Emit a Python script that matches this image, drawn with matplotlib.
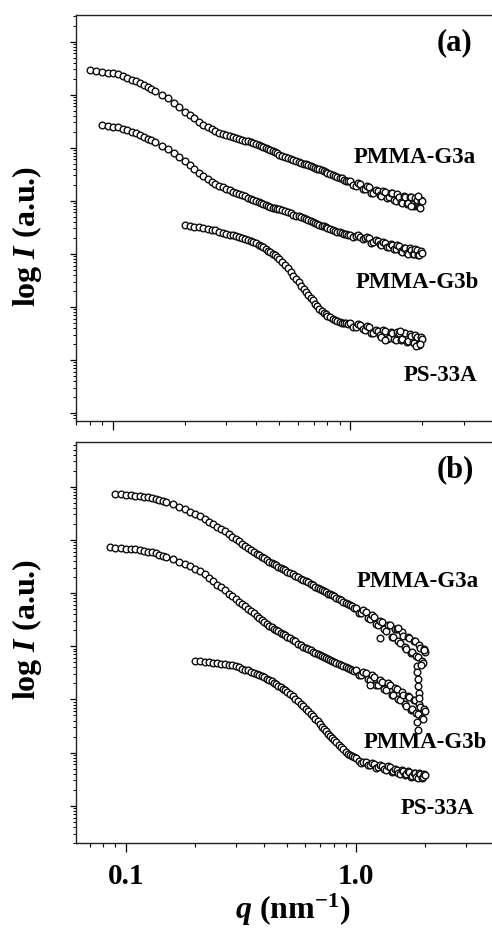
import matplotlib
matplotlib.use("Agg")
import matplotlib.pyplot as plt
from matplotlib.ticker import LogLocator, FixedLocator, NullFormatter, FixedFormatter
import numpy as np

plt.rcParams['font.family'] = 'Liberation Serif'
plt.rcParams['font.weight'] = 'bold'
plt.rcParams['mathtext.fontset'] = 'custom'
plt.rcParams['mathtext.rm'] = 'Liberation Serif:bold'
plt.rcParams['mathtext.it'] = 'Liberation Serif:italic:bold'
plt.rcParams['mathtext.bf'] = 'Liberation Serif:bold'

# ---------------- data (q in nm^-1, log10 of intensity in a.u.) ----------------
q_grid = [0.080, 0.085, 0.090, 0.095, 0.100, 0.105, 0.110, 0.115, 0.120, 0.125,
          0.130, 0.135, 0.140, 0.145, 0.150, 0.16, 0.17, 0.18, 0.19, 0.20,
          0.21, 0.22, 0.23, 0.24, 0.25, 0.26, 0.27, 0.28, 0.29, 0.30,
          0.32, 0.34, 0.36, 0.38, 0.40, 0.42, 0.44, 0.46, 0.48, 0.50,
          0.53, 0.56, 0.59, 0.62, 0.65, 0.68, 0.71, 0.74, 0.77, 0.80,
          0.84, 0.88, 0.92, 0.96, 1.00, 1.05, 1.10, 1.15, 1.20, 1.25,
          1.30, 1.35, 1.40, 1.45, 1.50, 1.55, 1.60, 1.65, 1.70, 1.75,
          1.80, 1.85, 1.90, 1.95, 2.00]
# second, interleaved set of readings (every curve covers all of it)
q_fill = [0.31, 0.33, 0.35, 0.37, 0.39, 0.41, 0.43, 0.45, 0.47, 0.49,
          0.515, 0.545, 0.575, 0.605, 0.635, 0.665, 0.695, 0.725, 0.755, 0.785,
          0.82, 0.86, 0.90, 0.94, 0.98,
          1.025, 1.075, 1.125, 1.175, 1.225, 1.275, 1.325, 1.375, 1.425, 1.475,
          1.525, 1.575, 1.625, 1.675, 1.725, 1.775, 1.825, 1.875, 1.925, 1.975]

# panel (a)
a_g3a_start = 0.080
a_g3a_logI = [6.47, 6.45, 6.43, 6.41, 6.40, 6.38, 6.35, 6.32, 6.28, 6.25, 6.22, 6.18, 6.14, 6.11, 6.07,
              6.00, 5.93, 5.85, 5.76, 5.68, 5.61, 5.55, 5.49, 5.43, 5.39, 5.35, 5.32, 5.28, 5.26, 5.24,
              5.20, 5.17, 5.13, 5.10, 5.07, 5.03, 4.99, 4.95, 4.91, 4.87,
              4.82, 4.78, 4.75, 4.72, 4.69, 4.65, 4.62, 4.59, 4.56, 4.53,
              4.49, 4.45, 4.42, 4.38,
              4.37, 4.28, 4.31, 4.22, 4.25, 4.14, 4.18, 4.09, 4.17, 4.07, 4.14,
              4.00, 4.07, 3.95, 4.07, 3.95, 4.07, 3.91, 4.02, 3.88, 3.99]
a_g3a_fill = [5.22, 5.18, 5.15, 5.12, 5.08, 5.05, 5.01, 4.97, 4.93, 4.89,
              4.85, 4.80, 4.76, 4.73, 4.70, 4.67, 4.64, 4.60, 4.57, 4.54,
              4.51, 4.47, 4.43, 4.40, 4.37,
              4.29, 4.34, 4.23, 4.28, 4.15, 4.21, 4.11, 4.19, 4.05, 4.14,
              4.02, 4.12, 3.97, 4.08, 3.94, 4.07, 3.93, 4.06, 3.90, 4.02]
a_g3b_start = 0.090
a_g3b_logI = [5.43, 5.41, 5.39, 5.38, 5.35, 5.33, 5.30, 5.28, 5.24, 5.21, 5.17, 5.14, 5.10,
              5.04, 4.98, 4.90, 4.82, 4.74, 4.67, 4.59, 4.52, 4.46, 4.41, 4.36, 4.32, 4.28, 4.25, 4.22,
              4.17, 4.12, 4.08, 4.04, 4.00, 3.96, 3.92, 3.89, 3.86, 3.84,
              3.80, 3.77, 3.72, 3.69, 3.65, 3.61, 3.58, 3.55, 3.52, 3.49,
              3.45, 3.42, 3.39, 3.37,
              3.35, 3.33, 3.31, 3.29, 3.29, 3.22, 3.25, 3.17, 3.20, 3.12, 3.17,
              3.09, 3.14, 3.04, 3.10, 3.00, 3.08, 2.99, 3.07, 2.97, 3.02]
a_g3b_fill = [4.20, 4.15, 4.10, 4.06, 4.02, 3.98, 3.94, 3.90, 3.87, 3.85,
              3.82, 3.78, 3.74, 3.71, 3.67, 3.63, 3.60, 3.57, 3.53, 3.50,
              3.47, 3.43, 3.41, 3.38, 3.36,
              3.31, 3.35, 3.28, 3.32, 3.21, 3.26, 3.18, 3.23, 3.13, 3.19,
              3.09, 3.16, 3.05, 3.11, 3.01, 3.10, 3.00, 3.09, 2.97, 3.05]
a_ps_start = 0.20
a_ps_logI = [3.55, 3.53, 3.51, 3.50, 3.48, 3.47, 3.45, 3.44, 3.42, 3.40, 3.38,
             3.35, 3.31, 3.28, 3.25, 3.20, 3.14, 3.09, 3.03, 2.97, 2.90,
             2.79, 2.66, 2.53, 2.40, 2.28, 2.17, 2.06, 1.96, 1.89, 1.83,
             1.77, 1.73, 1.70, 1.69,
             1.69, 1.62, 1.66, 1.57, 1.62, 1.51, 1.55, 1.44, 1.54, 1.42, 1.50,
             1.38, 1.51, 1.39, 1.50, 1.36, 1.45, 1.31, 1.44, 1.29, 1.39]
a_ps_fill = [3.36, 3.33, 3.29, 3.26, 3.22, 3.17, 3.12, 3.06, 3.00, 2.94,
             2.85, 2.73, 2.59, 2.47, 2.34, 2.22, 2.12, 2.01, 1.93, 1.86,
             1.80, 1.75, 1.71, 1.69, 1.68,
             1.62, 1.67, 1.58, 1.64, 1.50, 1.57, 1.47, 1.56, 1.40, 1.52,
             1.40, 1.53, 1.37, 1.51, 1.34, 1.49, 1.33, 1.47, 1.29, 1.43]
a_extra_q = [1.80, 1.92, 1.97, 1.40, 1.62, 1.88, 1.97]
a_extra_logI = [3.90, 4.08, 3.86, 1.38, 1.55, 1.27, 1.30]

# panel (b)
b_g3a_start = 0.090
b_g3a_logI = [5.87, 5.86, 5.85, 5.84, 5.83, 5.82, 5.81, 5.80, 5.79, 5.77, 5.75, 5.73, 5.71,
              5.67, 5.62, 5.58, 5.53, 5.49, 5.44, 5.40, 5.34, 5.30, 5.25, 5.21, 5.16, 5.11, 5.06, 5.02,
              4.93, 4.85, 4.77, 4.71, 4.65, 4.59, 4.54, 4.49, 4.45, 4.40,
              4.35, 4.30, 4.25, 4.20, 4.15, 4.10, 4.06, 4.02, 3.98, 3.94,
              3.89, 3.84, 3.79, 3.75,
              3.72, 3.62, 3.65, 3.52, 3.55, 3.39, 3.45, 3.28, 3.40, 3.17, 3.33,
              3.07, 3.20, 2.94, 3.16, 2.89, 3.10, 2.79, 2.97, 2.69, 2.90]
b_g3a_fill = [4.97, 4.89, 4.81, 4.74, 4.68, 4.62, 4.56, 4.52, 4.47, 4.43,
              4.38, 4.32, 4.27, 4.22, 4.17, 4.12, 4.08, 4.04, 3.99, 3.96,
              3.91, 3.86, 3.81, 3.77, 3.72,
              3.63, 3.68, 3.54, 3.59, 3.42, 3.47, 3.32, 3.40, 3.17, 3.32,
              3.10, 3.27, 2.99, 3.17, 2.88, 3.10, 2.82, 3.03, 2.73, 2.94]
b_g3b_start = 0.085
b_g3b_logI = [4.86, 4.85, 4.84, 4.83, 4.82, 4.82, 4.80, 4.79, 4.78, 4.77, 4.75, 4.72, 4.70, 4.68,
              4.64, 4.59, 4.55, 4.50, 4.45, 4.41, 4.36, 4.29, 4.23, 4.16, 4.11, 4.05, 3.99, 3.94, 3.89,
              3.79, 3.70, 3.62, 3.53, 3.46, 3.38, 3.33, 3.28, 3.23, 3.18,
              3.12, 3.05, 2.99, 2.95, 2.90, 2.86, 2.82, 2.78, 2.75, 2.71,
              2.67, 2.63, 2.59, 2.55,
              2.55, 2.45, 2.49, 2.36, 2.42, 2.27, 2.32, 2.18, 2.28, 2.09, 2.20,
              1.99, 2.09, 1.88, 2.05, 1.82, 1.98, 1.72, 1.86, 1.63, 1.78]
b_g3b_fill = [3.84, 3.75, 3.66, 3.57, 3.49, 3.42, 3.36, 3.30, 3.25, 3.21,
              3.15, 3.09, 3.02, 2.97, 2.93, 2.88, 2.84, 2.80, 2.76, 2.73,
              2.69, 2.65, 2.61, 2.57, 2.54,
              2.46, 2.51, 2.38, 2.45, 2.27, 2.36, 2.20, 2.31, 2.09, 2.21,
              2.01, 2.14, 1.91, 2.06, 1.81, 1.99, 1.75, 1.92, 1.65, 1.82]
b_ps_start = 0.20
b_ps_logI = [2.73, 2.72, 2.71, 2.70, 2.69, 2.68, 2.67, 2.66, 2.65, 2.64, 2.62,
             2.58, 2.55, 2.50, 2.46, 2.42, 2.36, 2.31, 2.26, 2.20, 2.14,
             2.06, 1.97, 1.87, 1.78, 1.69, 1.59, 1.49, 1.40, 1.31, 1.24,
             1.15, 1.06, 0.98, 0.93,
             0.90, 0.81, 0.83, 0.76, 0.79, 0.72, 0.75, 0.68, 0.73, 0.65, 0.68,
             0.59, 0.65, 0.59, 0.64, 0.56, 0.61, 0.53, 0.59, 0.54, 0.58]
b_ps_fill = [2.60, 2.56, 2.52, 2.48, 2.44, 2.39, 2.34, 2.29, 2.23, 2.17,
             2.10, 2.01, 1.92, 1.82, 1.73, 1.64, 1.54, 1.44, 1.35, 1.27,
             1.19, 1.10, 1.02, 0.96, 0.91,
             0.84, 0.83, 0.77, 0.81, 0.71, 0.76, 0.70, 0.74, 0.64, 0.69,
             0.61, 0.67, 0.58, 0.65, 0.55, 0.62, 0.54, 0.62, 0.52, 0.59]
b_extra_q = [1.15, 1.27, 1.52, 1.83, 1.84, 1.85, 1.86, 1.87, 1.92, 1.97, 1.84, 1.86, 1.88]
b_extra_logI = [2.27, 3.15, 3.34, 2.62, 2.52, 2.38, 2.25, 2.12, 2.65, 2.93, 1.58, 1.43, 2.02]

names = ["PMMA-G3a", "PMMA-G3b", "PS-33A"]


def curve_points(start, vals, fill):
    i = q_grid.index(start)
    q = list(q_grid[i:i + len(vals)]) + list(q_fill)
    y = list(vals) + list(fill)
    order = np.argsort(q)
    return np.array(q)[order], np.array(y)[order]


def draw(ax, q, logI):
    ax.plot(q, 10.0 ** np.asarray(logI), linestyle='none', marker='o', markersize=4.8,
            markerfacecolor='white', markeredgecolor='#0d0d0d', markeredgewidth=1.0)


fig = plt.figure(figsize=(4.92, 9.30), dpi=100)
ax_a = fig.add_axes([76 / 492, 1 - 421 / 930, 416 / 492, 406 / 930])
ax_b = fig.add_axes([76 / 492, 1 - 843 / 930, 416 / 492, 401 / 930])

panels = [
    (ax_a, [(a_g3a_start, a_g3a_logI, a_g3a_fill), (a_g3b_start, a_g3b_logI, a_g3b_fill),
            (a_ps_start, a_ps_logI, a_ps_fill)],
     (a_extra_q, a_extra_logI), (0.0698, 3.945), (-0.151, 7.50), "(a)",
     [(0.815, 0.648), (0.821, 0.340), (0.875, 0.113)]),
    (ax_b, [(b_g3a_start, b_g3a_logI, b_g3a_fill), (b_g3b_start, b_g3b_logI, b_g3b_fill),
            (b_ps_start, b_ps_logI, b_ps_fill)],
     (b_extra_q, b_extra_logI), (0.0608, 3.89), (-0.70, 6.84), "(b)",
     [(0.822, 0.652), (0.841, 0.250), (0.870, 0.087)]),
]

for ax, curves, extra, xlim, ylim, tag, label_pos in panels:
    for start, vals, fill in curves:
        q, y = curve_points(start, vals, fill)
        draw(ax, q, y)
    draw(ax, extra[0], extra[1])
    ax.set_xscale('log')
    ax.set_yscale('log')
    ax.set_xlim(*xlim)
    ax.set_ylim(10 ** ylim[0], 10 ** ylim[1])
    ax.spines['right'].set_visible(False)
    for s in ['left', 'top', 'bottom']:
        ax.spines[s].set_linewidth(1.0)
        ax.spines[s].set_color('#222222')
    ax.xaxis.set_major_locator(FixedLocator([0.1, 1.0]))
    ax.xaxis.set_major_formatter(FixedFormatter(['0.1', '1.0']))
    ax.xaxis.set_minor_locator(LogLocator(base=10, subs=np.arange(2, 10), numticks=20))
    ax.xaxis.set_minor_formatter(NullFormatter())
    ax.yaxis.set_major_locator(LogLocator(base=10, numticks=20))
    ax.yaxis.set_minor_locator(LogLocator(base=10, subs=np.arange(2, 10), numticks=20))
    ax.yaxis.set_major_formatter(NullFormatter())
    ax.yaxis.set_minor_formatter(NullFormatter())
    ax.tick_params(axis='x', which='major', direction='out', length=6.5, width=0.9,
                   labelsize=21, pad=8, top=False)
    ax.tick_params(axis='x', which='minor', direction='out', length=3, width=0.8, top=False)
    ax.tick_params(axis='y', which='major', direction='out', length=4.5, width=0.9, right=False)
    ax.tick_params(axis='y', which='minor', direction='out', length=2.2, width=0.7, right=False)
    ax.text(0.911, 0.931, tag, transform=ax.transAxes, ha='center', va='center',
            fontsize=22, fontweight='bold')
    for name, (tx, ty) in zip(names, label_pos):
        ax.text(tx, ty, name, transform=ax.transAxes, ha='center', va='center',
                fontsize=16.5, fontweight='bold')

ax_a.tick_params(axis='x', labelbottom=False)

fig.text(27.5 / 492, 1 - 236.7 / 930, r"log $I$ (a.u.)", rotation=90,
         ha='center', va='center', fontsize=23, fontweight='bold')
fig.text(27.5 / 492, 1 - 629 / 930, r"log $I$ (a.u.)", rotation=90,
         ha='center', va='center', fontsize=23, fontweight='bold')
fig.text(293 / 492, 1 - 910 / 930, r"$q$ (nm$^{-1}$)",
         ha='center', va='center', fontsize=23, fontweight='bold')

fig.savefig("out.png", dpi=100)
